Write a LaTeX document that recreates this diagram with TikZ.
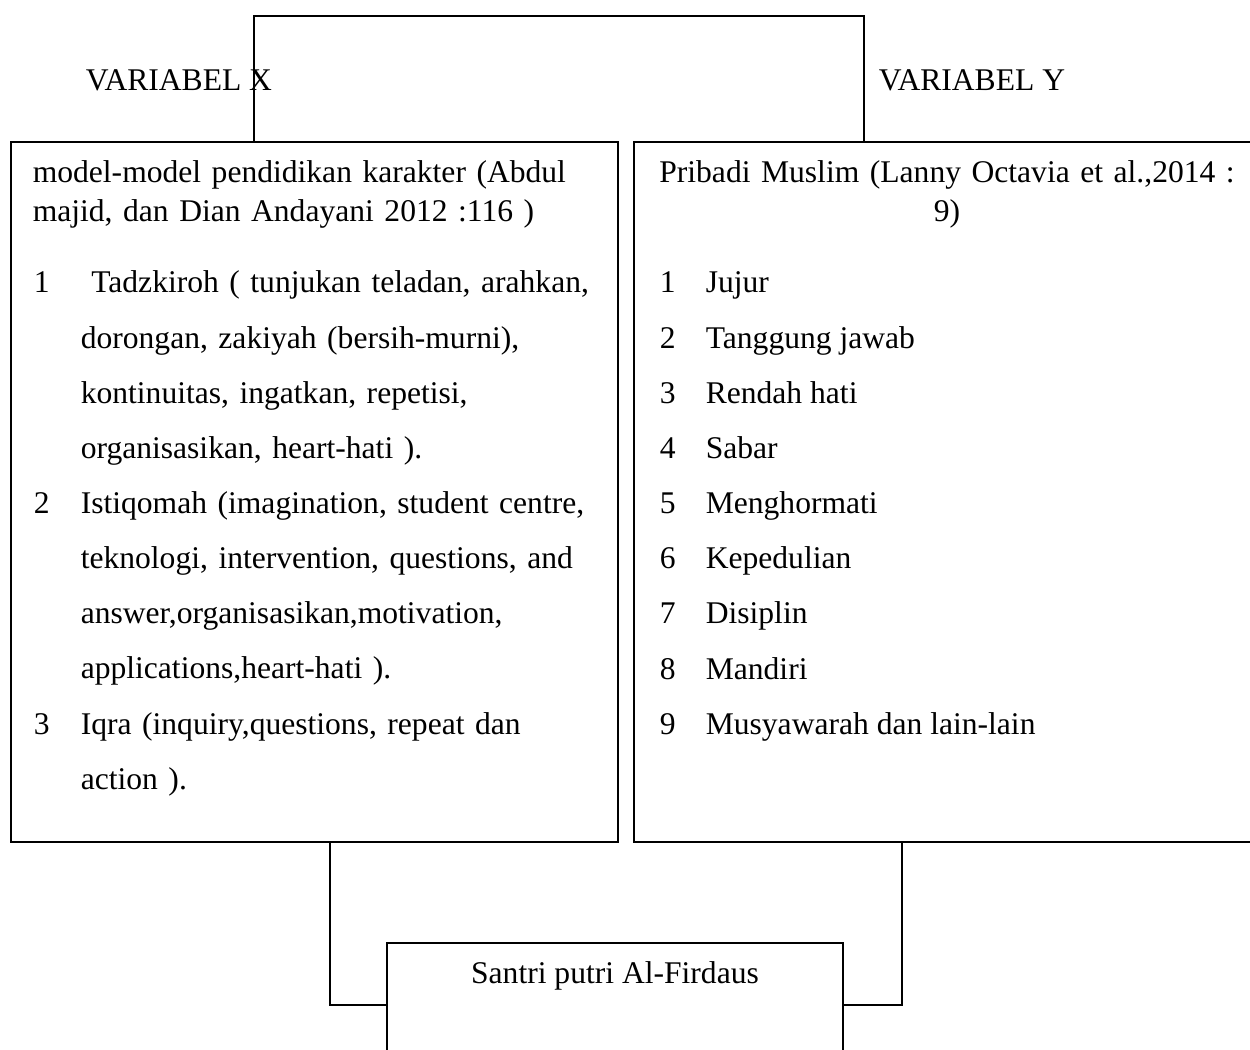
\documentclass[tikz,border=0pt]{standalone}
\usepackage{fontspec}
\setmainfont{Liberation Serif}
\usetikzlibrary{fit}

\tikzset{
  box/.style={draw, inner sep=0pt},
  txt/.style={inner sep=0pt, anchor=base west, font=\fontsize{12}{20.95}\selectfont},
  item/.style={txt, text width=220pt, align=left},
}

\begin{document}
\begin{tikzpicture}[x=0.38pt, y=-0.38pt, line width=0.6pt]
        \useasboundingbox (0,0) rectangle (1250,1050);

        \node[box, fit={(11,142) (618,842)}] (xbox) {};
        \node[box, fit={(634,142) (1262,842)}] (ybox) {};
        \node[box, fit={(387,943) (843,1090)}] (santri) {};

        \node[txt] (varx) at (85,91) {VARIABEL X};
        \node[txt] (vary) at (878,91) {VARIABEL Y};

        \node[item, font=\fontsize{12}{14.8}\selectfont] (xhead) at (32,183)
            {model-model pendidikan karakter (Abdul\\ majid, dan Dian Andayani 2012 :116 )};
        \node[txt] (xn1) at (33,293) {1};
        \node[item] (x1) at (80,293) {\ Tadzkiroh ( tunjukan teladan, arahkan,\\ dorongan, zakiyah (bersih-murni),\\ kontinuitas, ingatkan, repetisi,\\ organisasikan, heart-hati ).};
        \node[txt] (xn2) at (33,513.6) {2};
        \node[item] (x2) at (80,513.6) {Istiqomah (imagination, student centre,\\ teknologi, intervention, questions, and\\ answer,organisasikan,motivation,\\ applications,heart-hati ).};
        \node[txt] (xn3) at (33,734.2) {3};
        \node[item] (x3) at (80,734.2) {Iqra (inquiry,questions, repeat dan\\ action ).};

        \node[txt, anchor=base, text width=240pt, align=center, font=\fontsize{12}{14.8}\selectfont] (yhead) at (947,183)
            {Pribadi Muslim (Lanny Octavia et al.,2014 :\\ 9)};
        \foreach \t [count=\i] in {Jujur, Tanggung jawab, Rendah hati, Sabar, Menghormati, Kepedulian, Disiplin, Mandiri, Musyawarah dan lain-lain} {
            \node[txt] (yn\i) at (659,{293+55.15*(\i-1)}) {\i};
            \node[txt] (y\i) at (705,{293+55.15*(\i-1)}) {\t};
        }

        \node[txt, anchor=base] (santrilbl) at (615,983) {Santri putri Al-Firdaus};

        \coordinate (topl) at (254,16);
        \coordinate (topr) at (864,16);
        \coordinate (botl) at (330,1005);
        \coordinate (botr) at (902,1005);
        \draw (xbox.north -| topl) -- (topl) -- (topr) -- (ybox.north -| topr);
        \draw (xbox.south -| botl) -- (botl) -- (santri.west |- botl);
        \draw (ybox.south -| botr) -- (botr) -- (santri.east |- botr);
\end{tikzpicture}
\end{document}
